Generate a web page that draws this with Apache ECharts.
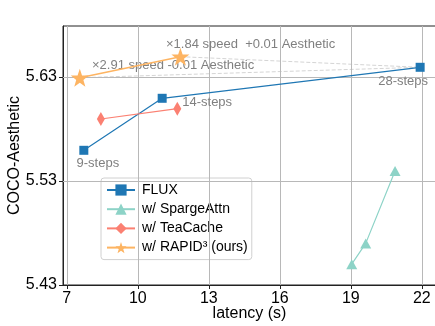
<!DOCTYPE html>
<html><head><meta charset="utf-8">
<script src="https://cdn.jsdelivr.net/npm/echarts@6/dist/echarts.min.js"></script>
<style>html,body{margin:0;padding:0;background:#fff}#c{width:435px;height:326px}</style>
</head><body><div id="c"></div>
<script>
const xTicks = [7, 10, 13, 16, 19, 22];
const yTicks = [5.43, 5.53, 5.63];
const fluxLatency = [7.72, 11.03, 21.93];
const fluxScore = [5.5595, 5.6095, 5.6393];
const fluxLabels = ['9-steps', '14-steps', '28-steps'];
const spargeLatency = [19.04, 19.63, 20.87];
const spargeScore = [5.450, 5.470, 5.5396];
const teaLatency = [8.44, 11.67];
const teaScore = [5.5896, 5.5995];
const rapidLatency = [7.55, 11.80];
const rapidScore = [5.6293, 5.6495];
const annoTexts = ['×1.84 speed  +0.01 Aesthetic', '×2.91 speed -0.01 Aesthetic'];

const zip = (a, b) => a.map((v, i) => [v, b[i]]);
const font = '"Liberation Sans", Arial, sans-serif';
const fluxOffsets = [[14, 13], [45, 4], [-17, 14]];

const chart = echarts.init(document.getElementById('c'));
chart.setOption({
  animation: false,
  grid: {left: 63, top: 26, width: 373, height: 259, show: true, borderColor: '#222', borderWidth: 1,
    containLabel: false, outerBoundsMode: 'none'},
  xAxis: {
    type: 'value', min: 6.84, max: 22.6,
    name: 'latency (s)', nameLocation: 'middle', nameGap: 21, nameMoveOverlap: false,
    nameTextStyle: {fontSize: 16, color: '#000', fontFamily: font},
    axisLine: {show: true, onZero: false, lineStyle: {color: '#222'}},
    axisTick: {show: true, length: 4, customValues: xTicks, lineStyle: {color: '#222'}},
    axisLabel: {customValues: xTicks, fontSize: 16, color: '#000', fontFamily: font, margin: 6},
    splitLine: {show: false}
  },
  yAxis: {
    type: 'value', min: 5.43, max: 5.679,
    name: 'COCO-Aesthetic', nameLocation: 'middle', nameGap: 40, nameMoveOverlap: false,
    nameTextStyle: {fontSize: 16, color: '#000', fontFamily: font},
    axisLine: {show: true, onZero: false, lineStyle: {color: '#222'}},
    axisTick: {show: true, length: 4, customValues: yTicks, lineStyle: {color: '#222'}},
    axisLabel: {customValues: yTicks, fontSize: 16, color: '#000', fontFamily: font, margin: 6,
      formatter: v => v.toFixed(2)},
    splitLine: {show: false}
  },
  legend: {
    orient: 'vertical', left: 101, top: 178,
    data: ['FLUX', 'w/ SpargeAttn', 'w/ TeaCache', 'w/ RAPID³ (ours)'],
    itemWidth: 28, itemHeight: 14, itemGap: 5.2,
    padding: [5, 4, 5, 5],
    borderColor: '#d0d0d0', borderWidth: 1, borderRadius: 3,
    backgroundColor: 'rgba(255,255,255,0.85)',
    textStyle: {fontSize: 14, color: '#000', fontFamily: font, padding: [0, 0, 0, 2]}
  },
  series: [
    {
      type: 'line', name: '__grid', silent: true, data: [], symbol: 'none',
      markLine: {
        silent: true, symbol: 'none', label: {show: false},
        lineStyle: {color: '#b8b8b8', type: 'solid', width: 1},
        data: xTicks.map(v => ({xAxis: v})).concat(yTicks.slice(1).map(v => ({yAxis: v})))
      }
    },
    {
      type: 'line', name: '__dash1', silent: true, symbol: 'none',
      data: [[rapidLatency[0], rapidScore[0]], [fluxLatency[2], fluxScore[2]]],
      lineStyle: {color: '#d4d4d4', type: [4, 2], width: 1}
    },
    {
      type: 'line', name: '__dash2', silent: true, symbol: 'none',
      data: [[rapidLatency[1], rapidScore[1]], [fluxLatency[2], fluxScore[2]]],
      lineStyle: {color: '#d4d4d4', type: [4, 2], width: 1}
    },
    {
      type: 'line', name: 'FLUX', color: '#1f77b4', symbol: 'rect', symbolSize: 9, z: 5,
      lineStyle: {width: 1.2},
      data: zip(fluxLatency, fluxScore).map((p, i) => ({
        value: p,
        label: {show: true, formatter: fluxLabels[i], position: 'inside', offset: fluxOffsets[i],
          color: '#808080', fontSize: 13, fontFamily: font}
      }))
    },
    {
      type: 'line', name: 'w/ SpargeAttn', color: '#8dd3c7', symbol: 'triangle', symbolSize: [11, 10], z: 5,
      lineStyle: {width: 1.2},
      data: zip(spargeLatency, spargeScore)
    },
    {
      type: 'line', name: 'w/ TeaCache', color: '#fb8072', symbol: 'diamond', symbolSize: [8, 14], z: 5,
      lineStyle: {width: 1.2},
      data: zip(teaLatency, teaScore)
    },
    {
      type: 'line', name: 'w/ RAPID³ (ours)', color: '#fdb462',
      symbol: 'path://M0,-10 L2.35,-3.24 L9.51,-3.09 L3.8,1.24 L5.88,8.09 L0,4 L-5.88,8.09 L-3.8,1.24 L-9.51,-3.09 L-2.35,-3.24 Z',
      symbolSize: 18, z: 6,
      lineStyle: {width: 1.5},
      data: zip(rapidLatency, rapidScore)
    }
  ],
  graphic: [
    {type: 'text', left: 166, top: 38, style: {text: annoTexts[0], fill: '#808080', fontSize: 13, fontFamily: font}},
    {type: 'text', left: 92, top: 59, style: {text: annoTexts[1], fill: '#808080', fontSize: 13, fontFamily: font}}
  ]
});
</script></body></html>
